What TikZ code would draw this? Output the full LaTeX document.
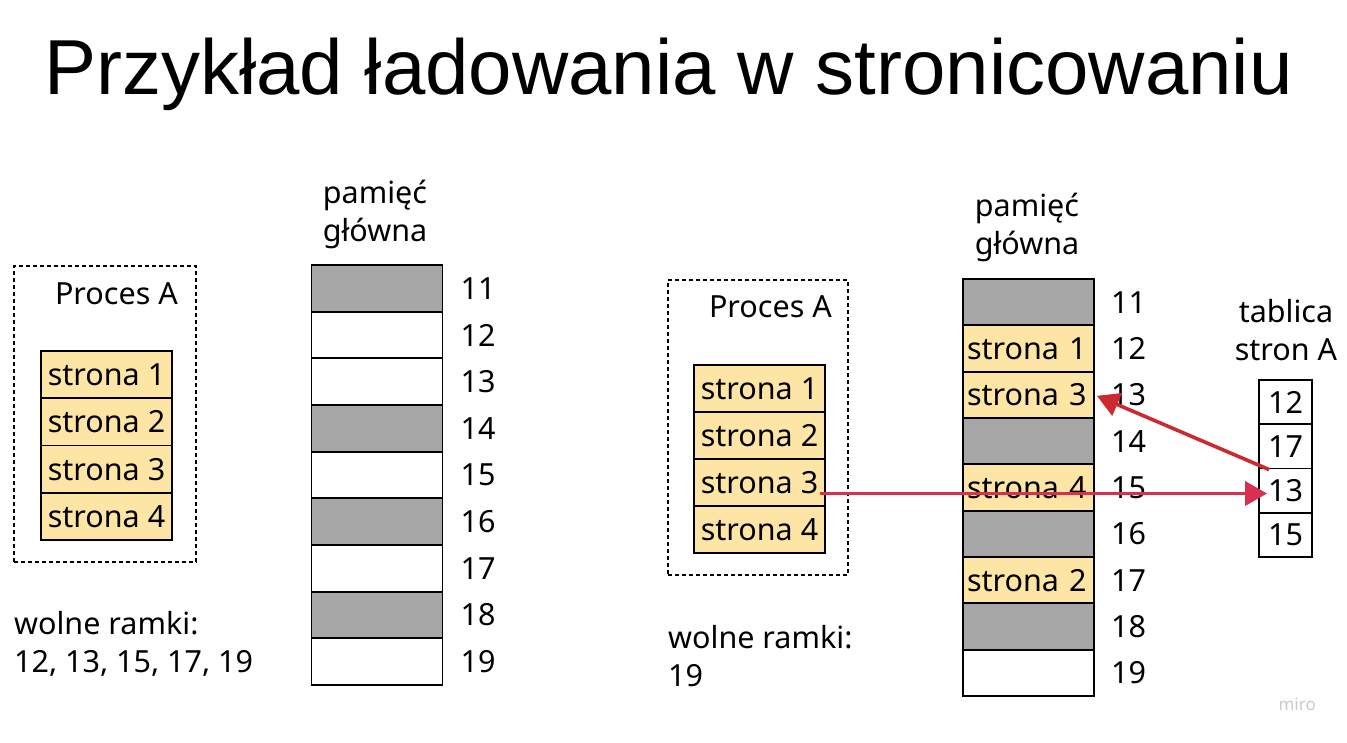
\documentclass[tikz,border=0pt]{standalone}
\usepackage{fontspec}
\setmainfont{Noto Sans}
\newfontfamily\titlefont{Liberation Sans}
\usetikzlibrary{arrows.meta,calc}
\definecolor{pagefill}{HTML}{FDE5A6}
\definecolor{usedfill}{HTML}{A6A6A6}
\definecolor{arrowred}{HTML}{CC2A30}
\definecolor{arrowpink}{HTML}{D8304F}
\definecolor{markgray}{HTML}{C8C8D2}
\tikzset{
  cell/.style={draw=black, line width=1.8pt, inner sep=0pt, minimum width=131pt},
  pagecell/.style={cell, fill=pagefill, font=\fontsize{30.5}{32}\selectfont},
  freecell/.style={cell, fill=white},
  usedcell/.style={cell, fill=usedfill},
  memtext/.style={pagecell, text width=123pt, align=left},
  frameno/.style={anchor=west, inner sep=0pt, font=\fontsize{30.5}{32}\selectfont},
  label/.style={inner sep=0pt, font=\fontsize{30.5}{38}\selectfont, align=center},
  procbox/.style={draw=black, line width=1.6pt, dash pattern=on 4pt off 3pt, inner sep=0pt},
  tabcell/.style={draw=black, line width=1.8pt, inner sep=0pt, minimum width=53pt, minimum height=44.25pt, fill=white, font=\fontsize{30.5}{32}\selectfont},
  link/.style={line width=3.6pt, -{Triangle[length=22pt,width=24pt]}}
}
\begin{document}
\begin{tikzpicture}[x=1pt,y=-1pt]
\useasboundingbox (0,0) rectangle (1347,742);

% title
\node[anchor=base west, inner sep=0pt, font=\titlefont\fontsize{78}{80}\selectfont] (title) at (44,94) {Przykład ładowania w stronicowaniu};

% ---------- left panel: before loading ----------
\node[procbox, minimum width=182pt, minimum height=296pt] (procL) at (105,414) {};
\node[label, anchor=east] (procLname) at (178,294) {Proces A};
\foreach \i in {1,...,4} {
  \node[pagecell, minimum height=47.25pt] (pL\i) at (106.5,{351+47.25*(\i-0.5)}) {strona \i};
}

\node[label] (memLname) at (375,214) {pamięć\\główna};
\foreach \i/\s in {11/usedcell,12/freecell,13/freecell,14/usedcell,15/freecell,16/usedcell,17/freecell,18/usedcell,19/freecell} {
  \node[\s, minimum height=46.67pt] (mL\i) at (377,{265+46.67*(\i-10.5)}) {};
  \node[frameno] (nL\i) at ($(mL\i.east)+(17,0)$) {\i};
}

\node[label, anchor=west, align=left] (freeL) at (14,644) {wolne ramki:\\12, 13, 15, 17, 19};

% ---------- right panel: after loading ----------
\node[procbox, minimum width=180pt, minimum height=295pt] (procR) at (758,427.5) {};
\node[label, anchor=east] (procRname) at (832,307) {Proces A};
\foreach \i in {1,...,4} {
  \node[pagecell, minimum height=47pt] (pR\i) at (759.5,{365+47*(\i-0.5)}) {strona \i};
}

\node[label] (memRname) at (1027,227) {pamięć\\główna};
\foreach \i/\s/\t in {11/usedcell/,12/memtext/strona 1,13/memtext/strona 3,14/usedcell/,15/memtext/strona 4,16/usedcell/,17/memtext/strona 2,18/usedcell/,19/freecell/} {
  \node[\s, minimum height=46.33pt] (mR\i) at (1028.5,{279+46.33*(\i-10.5)}) {\t};
  \node[frameno] (nR\i) at ($(mR\i.east)+(16,0)$) {\i};
}

\node[label, anchor=west, align=left] (freeR) at (668,656) {wolne ramki:\\19};

% page table of process A
\node[label] (tabname) at (1286,330) {tablica\\stron A};
\foreach \v [count=\k] in {12,17,13,15} {
  \node[tabcell] (t\k) at (1285.5,{380+44.25*(\k-0.5)}) {\v};
}

% links: page 3 goes to the table entry, the entry points at frame 13
\coordinate (hs) at ($(pR3.east)+(-6,11)$);
\draw[link, arrowpink] (hs) -- ([xshift=9pt]hs -| t3.west);
\coordinate (ds) at ($(t3.north west)+(11,2)$);
\draw[link, arrowred] (ds) -- ($(mR13.east)+(2,1)$);

% watermark
\node[anchor=east, inner sep=0pt, text=markgray, font=\fontsize{17}{18}\selectfont] (mark) at (1316,704) {miro};
\end{tikzpicture}
\end{document}
